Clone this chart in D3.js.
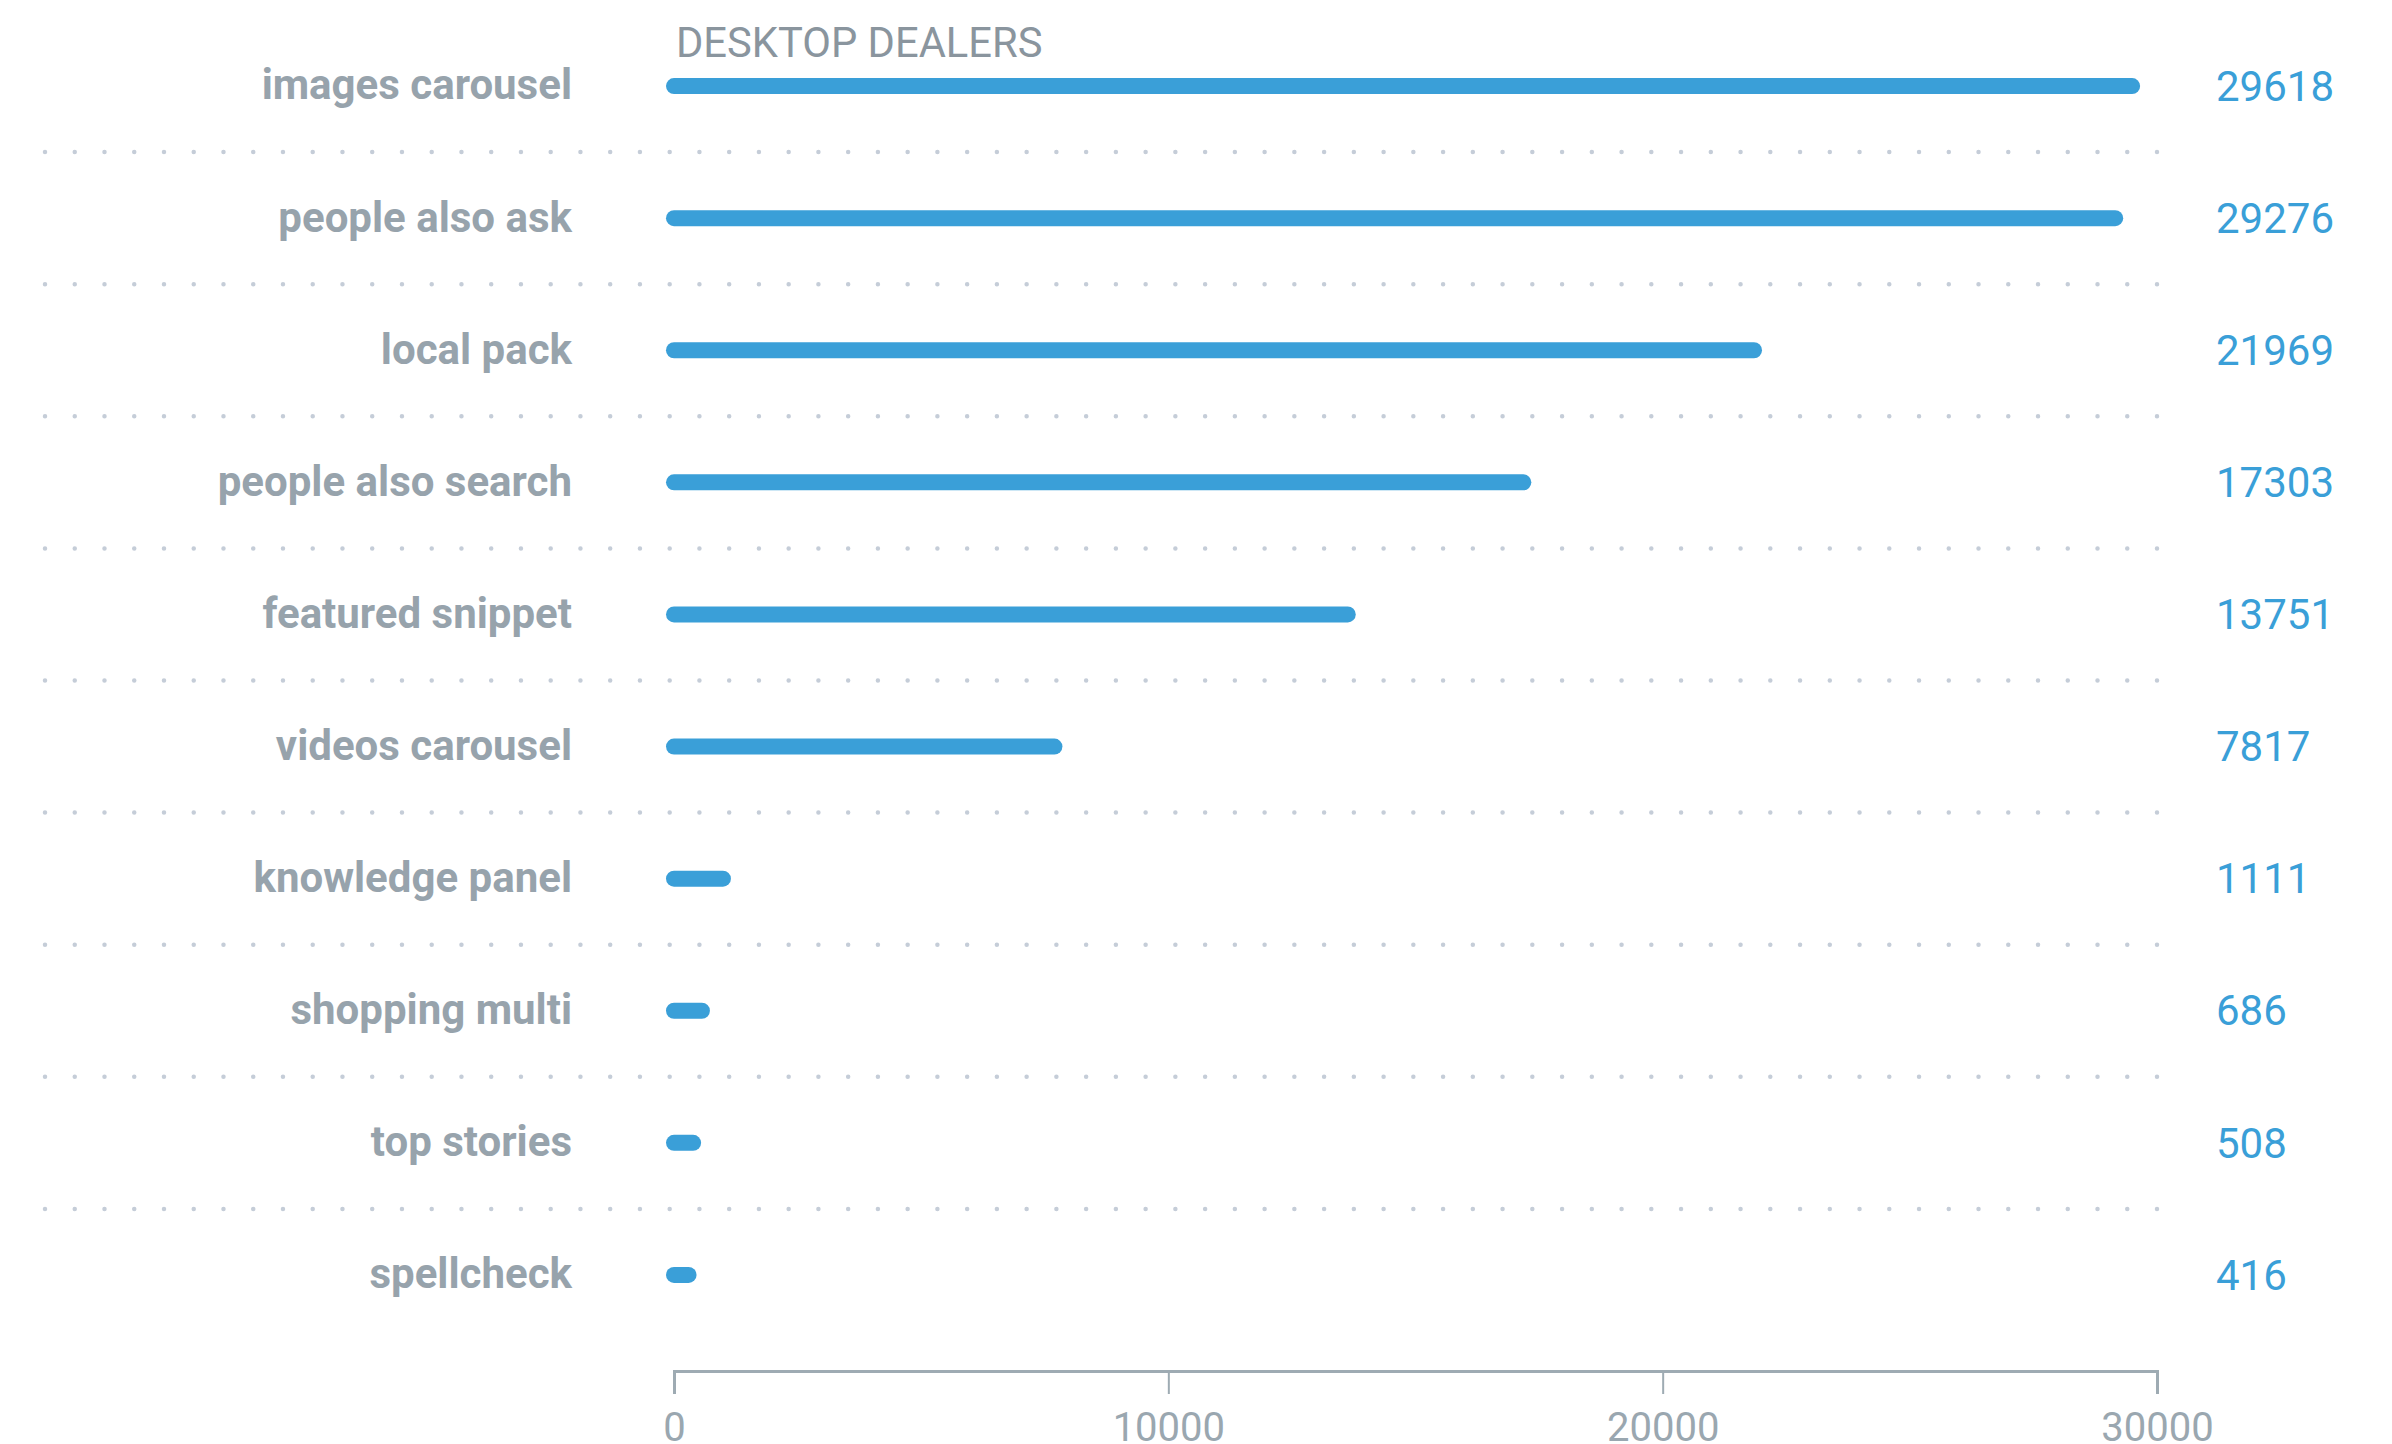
<!DOCTYPE html>
<html>
<head>
<meta charset="utf-8">
<script src="https://cdn.jsdelivr.net/npm/d3@7"></script>
<style>
  html, body { margin: 0; padding: 0; background: #fff; }
  svg { display: block; font-family: Roboto, "Noto Sans", sans-serif; }
</style>
</head>
<body>
<svg id="chart" width="2392" height="1444"></svg>
<script>
(function() {
  const title = "DESKTOP DEALERS";
  const categories = ["images carousel", "people also ask", "local pack", "people also search",
    "featured snippet", "videos carousel", "knowledge panel", "shopping multi", "top stories", "spellcheck"];
  const values = [29618, 29276, 21969, 17303, 13751, 7817, 1111, 686, 508, 416];
  const ticks = [0, 10000, 20000, 30000];

  const data = categories.map((c, i) => ({ name: c, value: values[i] }));

  const svg = d3.select("#chart");
  const margin = { top: 20, left: 674, right: 235 };
  const width = +svg.attr("width") - margin.left - margin.right;

  const x = d3.scaleLinear().domain([0, 30000]).range([margin.left, margin.left + width]);
  const y = d3.scaleBand().domain(categories).range([margin.top, margin.top + 132.1 * categories.length]);
  const axisY = 1371;
  const barH = 16;

  // title
  svg.append("text")
    .attr("x", 676).attr("y", 57)
    .attr("fill", "#8a959e")
    .style("font-size", "41.7px")
    .text(title);

  // dotted separators between rows
  const seps = categories.slice(1);
  svg.append("g").selectAll("line")
    .data(seps).enter().append("line")
    .attr("x1", 45).attr("x2", x(30000))
    .attr("y1", d => y(d)).attr("y2", d => y(d))
    .attr("stroke", "#c5cdd8")
    .attr("stroke-width", 4.5)
    .attr("stroke-linecap", "round")
    .attr("stroke-dasharray", "0," + ((x(30000) - 45) / 71));

  // bars (rounded, starting half a bar height left of zero)
  svg.append("g").selectAll("rect")
    .data(data).enter().append("rect")
    .attr("x", x(0) - barH / 2)
    .attr("y", d => y(d.name) + y.bandwidth() / 2 - barH / 2)
    .attr("width", d => x(d.value) - x(0) + barH / 2 + 2)
    .attr("height", barH)
    .attr("rx", barH / 2)
    .attr("fill", "#3a9fd8");

  // category labels
  svg.append("g").selectAll("text")
    .data(data).enter().append("text")
    .attr("x", 572)
    .attr("y", d => y(d.name) + y.bandwidth() / 2)
    .attr("dy", "0.32em")
    .attr("text-anchor", "end")
    .attr("fill", "#97a3ac")
    .style("font-size", "42px")
    .style("font-weight", "700")
    .text(d => d.name);

  // value labels
  svg.append("g").selectAll("text")
    .data(data).enter().append("text")
    .attr("x", 2216)
    .attr("y", d => y(d.name) + y.bandwidth() / 2)
    .attr("dy", "0.35em")
    .attr("fill", "#3a9fd8")
    .style("font-size", "42px")
    .text(d => d.value);

  // x axis
  const ax = svg.append("g")
    .attr("transform", `translate(0,${axisY})`)
    .call(d3.axisBottom(x).tickValues(ticks).tickFormat(d3.format("d")).tickSize(23).tickPadding(19));
  ax.select(".domain").attr("stroke", "#9eabb3").attr("stroke-width", 3);
  ax.selectAll(".tick line").attr("stroke", "#9eabb3").attr("stroke-width", 2);
  ax.selectAll(".tick text").attr("fill", "#9aa7b0").style("font-size", "40px")
    .style("font-family", "Roboto, sans-serif");
})();
</script>
</body>
</html>
